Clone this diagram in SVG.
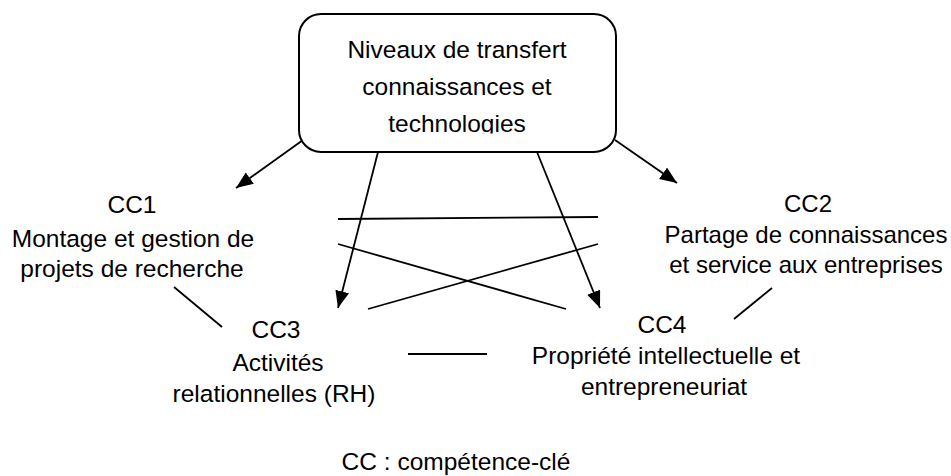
<svg xmlns="http://www.w3.org/2000/svg" width="951" height="476" viewBox="0 0 951 476">
<style>
text{font-family:"Liberation Sans",Arial,sans-serif;font-size:24.5px;fill:#000;text-anchor:middle}
#cc2 text{font-size:24px}
.ln{stroke:#000;stroke-width:1.8;fill:none}
.box{fill:#fff;stroke:#000;stroke-width:2}
</style>
<defs>
<marker id="ah" markerUnits="userSpaceOnUse" markerWidth="18" markerHeight="16" viewBox="0 0 18 16" refX="17" refY="7" orient="auto">
<path d="M0,0 L17,7 L0,14 Z" fill="#000"/>
</marker>
<clipPath id="boxclip"><rect x="300" y="15" width="316" height="118.5"/></clipPath>
</defs>
<rect x="0" y="0" width="951" height="476" fill="#fff"/>
<g id="connectors">
<line class="ln" x1="303" y1="140" x2="236" y2="188" marker-end="url(#ah)"/>
<line class="ln" x1="615" y1="140" x2="677" y2="183" marker-end="url(#ah)"/>
<line class="ln" x1="378" y1="152" x2="338" y2="308" marker-end="url(#ah)"/>
<line class="ln" x1="537" y1="152" x2="600" y2="308" marker-end="url(#ah)"/>
<line class="ln" x1="338" y1="219" x2="598" y2="217"/>
<line class="ln" x1="338" y1="244" x2="566" y2="309"/>
<line class="ln" x1="368" y1="309" x2="598" y2="244"/>
<line class="ln" x1="174" y1="287" x2="222" y2="327"/>
<line class="ln" x1="772" y1="288" x2="734" y2="319"/>
<line class="ln" x1="408" y1="354" x2="487" y2="354"/>
</g>
<g id="root">
<rect class="box" x="299" y="14" width="317" height="138" rx="22" ry="22"/>
<text x="457" y="58">Niveaux de transfert</text>
<text x="457" y="95">connaissances et</text>
<text x="457" y="132" clip-path="url(#boxclip)">technologies</text>
</g>
<g id="cc1">
<text x="132" y="213">CC1</text>
<text x="133" y="247">Montage et gestion de</text>
<text x="132" y="277">projets de recherche</text>
</g>
<g id="cc2">
<text x="808" y="212">CC2</text>
<text x="806" y="243">Partage de connaissances</text>
<text x="806" y="273">et service aux entreprises</text>
</g>
<g id="cc3">
<text x="276" y="338">CC3</text>
<text x="278" y="371">Activités</text>
<text x="274" y="402">relationnelles (RH)</text>
</g>
<g id="cc4">
<text x="662" y="333">CC4</text>
<text x="666" y="364">Propriété intellectuelle et</text>
<text x="664" y="395">entrepreneuriat</text>
</g>
<g id="legend">
<text x="456" y="470">CC : compétence-clé</text>
</g>
</svg>
